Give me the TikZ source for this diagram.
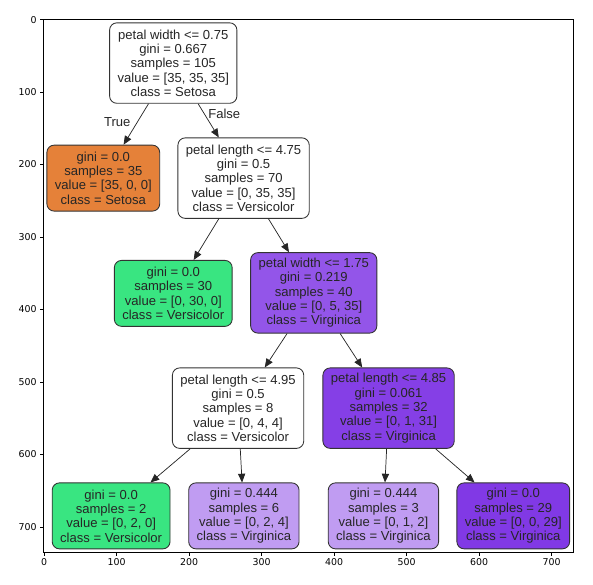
\documentclass[tikz,border=0pt]{standalone}
\usepackage{fontspec}
\setmainfont{Liberation Sans}
\newfontfamily\tickfont{DejaVu Sans}
\usetikzlibrary{arrows.meta}

\definecolor{setosa}{HTML}{E58139}
\definecolor{versicolor}{HTML}{39E581}
\definecolor{virginica}{HTML}{8139E5}
\definecolor{virgA}{HTML}{9355E9}
\definecolor{virgB}{HTML}{853FE6}
\definecolor{virgC}{HTML}{C09CF2}

\tikzset{
	tree/.style={draw=black!80, rounded corners=10pt, align=center, inner xsep=11pt, inner ysep=5pt,
		line width=1.2pt, font=\fontsize{18}{19.8}\selectfont, text=black!85},
	split/.style={tree, minimum height=111pt},
	leaf/.style={tree, minimum height=91pt},
	edge/.style={-{Triangle[length=12pt, width=10pt]}, draw=black!85, line width=1pt},
	elabel/.style={font=\fontsize{18}{19.8}\selectfont, text=black!85, inner sep=0pt},
}

\begin{document}
\begin{tikzpicture}[x=1pt, y=-1pt]
	\useasboundingbox (-61, -27) rectangle (757, 778.6);

	% frame and ticks
	\draw[line width=1.2pt] (-0.5, -0.5) rectangle (730.5, 734.5);
	\foreach \t in {0, 100, ..., 700} {
			\draw[line width=1pt] (\t, 734.5) -- ++(0, 5.5) node[below, inner sep=2.5pt, font=\tickfont\fontsize{13}{15}\selectfont]{\t};
			\draw[line width=1pt] (-0.5, \t) -- ++(-5.5, 0) node[left, inner sep=4pt, font=\tickfont\fontsize{13}{15}\selectfont]{\t};
		}

	% tree
	\node[split, fill=white] (root) at (178, 60) {petal width <= 0.75\\gini = 0.667\\samples = 105\\value = [35, 35, 35]\\class = Setosa};
	\node[leaf, fill=setosa] (setosa) at (81.5, 218.7) {gini = 0.0\\samples = 35\\value = [35, 0, 0]\\class = Setosa};
	\node[split, fill=white] (plA) at (275, 218.7) {petal length <= 4.75\\gini = 0.5\\samples = 70\\value = [0, 35, 35]\\class = Versicolor};
	\node[leaf, fill=versicolor] (versA) at (178, 377.7) {gini = 0.0\\samples = 30\\value = [0, 30, 0]\\class = Versicolor};
	\node[split, fill=virgA] (pw) at (371.8, 377) {petal width <= 1.75\\gini = 0.219\\samples = 40\\value = [0, 5, 35]\\class = Virginica};
	\node[split, fill=white] (plB) at (267.4, 536) {petal length <= 4.95\\gini = 0.5\\samples = 8\\value = [0, 4, 4]\\class = Versicolor};
	\node[split, fill=virgB] (plC) at (475, 536) {petal length <= 4.85\\gini = 0.061\\samples = 32\\value = [0, 1, 31]\\class = Virginica};
	\node[leaf, fill=versicolor] (versB) at (92.3, 684.6) {gini = 0.0\\samples = 2\\value = [0, 2, 0]\\class = Versicolor};
	\node[leaf, fill=virgC] (virgB) at (275.4, 684.6) {gini = 0.444\\samples = 6\\value = [0, 2, 4]\\class = Virginica};
	\node[leaf, fill=virgC] (virgC) at (467.9, 684.6) {gini = 0.444\\samples = 3\\value = [0, 1, 2]\\class = Virginica};
	\node[leaf, fill=virginica] (virgD) at (647, 684.6) {gini = 0.0\\samples = 29\\value = [0, 0, 29]\\class = Virginica};

	\draw[edge] (root) -- node[elabel, pos=0.45, left=9pt]{True} (setosa);
	\draw[edge] (root) -- node[elabel, pos=0.3, right=5pt]{False} (plA);
	\draw[edge] (plA) -- (versA);
	\draw[edge] (plA) -- (pw);
	\draw[edge] (pw) -- (plB);
	\draw[edge] (pw) -- (plC);
	\draw[edge] (plB) -- (versB);
	\draw[edge] (plB) -- (virgB);
	\draw[edge] (plC) -- (virgC);
	\draw[edge] (plC) -- (virgD);
\end{tikzpicture}
\end{document}
